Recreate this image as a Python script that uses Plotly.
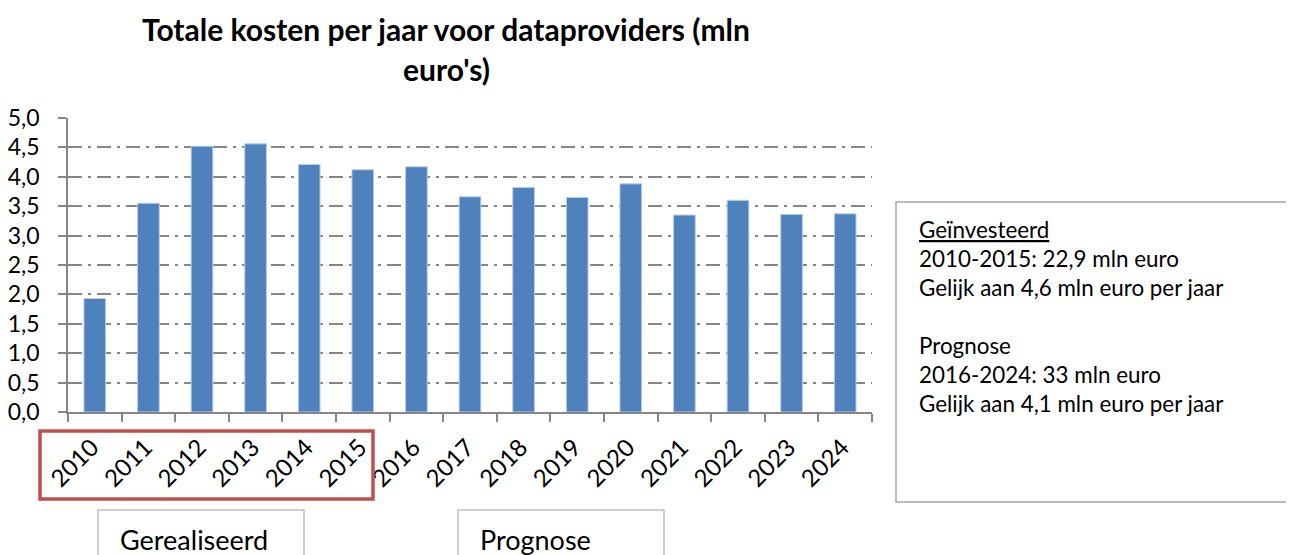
import plotly.graph_objects as go

years = ["2010", "2011", "2012", "2013", "2014", "2015", "2016", "2017",
         "2018", "2019", "2020", "2021", "2022", "2023", "2024"]
costs = [1.93, 3.55, 4.52, 4.56, 4.21, 4.12, 4.17, 3.66,
         3.82, 3.65, 3.88, 3.35, 3.60, 3.36, 3.37]

title_lines = ["Totale kosten per jaar voor dataproviders (mln", "euro's)"]
info_lines = ["<u>Geïnvesteerd</u>", "2010-2015: 22,9 mln euro",
              "Gelijk aan 4,6 mln euro per jaar", "",
              "Prognose", "2016-2024: 33 mln euro",
              "Gelijk aan 4,1 mln euro per jaar"]
group_labels = ["Gerealiseerd", "Prognose"]

# page (window) geometry; the html body adds an 8px margin
OFF = 8
PAGE_W, PAGE_H = 1294, 555
W, H = PAGE_W - OFF, PAGE_H - OFF
PL, PR, PT, PB = 68, 872, 118, 412          # plot area in page pixels
FONT = "Lato, 'Open Sans', sans-serif"


def xp(px):
    return (px - PL) / (PR - PL)


def yp(py):
    return (PB - py) / (PB - PT)


fig = go.Figure()
fig.add_trace(go.Bar(
    x=years, y=costs,
    marker=dict(color="#4F81BD", line=dict(color="#B9CDE5", width=1)),
    hoverinfo="x+y",
))

grid = "#868686"
fig.update_layout(
    template="none",
    width=W, height=H,
    margin=dict(l=PL - OFF, r=PAGE_W - PR, t=PT - OFF, b=PAGE_H - PB, pad=0),
    paper_bgcolor="white", plot_bgcolor="white",
    bargap=0.595,
    showlegend=False,
    font=dict(family=FONT, color="#000000"),
    separators=",.",
    xaxis=dict(
        type="category", automargin=False, showline=True, linecolor=grid,
        linewidth=1.5, ticks="outside", tickson="boundaries", ticklen=8,
        tickcolor=grid, tickwidth=1.5, tickangle=-45,
        tickfont=dict(size=24, family=FONT), showgrid=False,
        ticklabelstandoff=10, ticklabelshift=-3,
    ),
    yaxis=dict(
        range=[0, 5], dtick=0.5, tickformat=".1f", automargin=False,
        showline=True, linecolor=grid, linewidth=1.5, ticks="outside",
        ticklen=8, tickcolor=grid, tickwidth=1.5,
        tickfont=dict(size=23, family=FONT),
        showgrid=True, gridcolor=grid, gridwidth=1.5,
        griddash="14px,6px,3px,6px", zeroline=False, ticklabelstandoff=14,
    ),
)

# Title (two lines)
title_y = [29, 69]
for line, ty in zip(title_lines, title_y):
    fig.add_annotation(text="<b>" + line + "</b>", xref="paper", yref="paper",
                       x=xp(446), y=yp(ty), xanchor="center", yanchor="middle",
                       showarrow=False, font=dict(size=30, family=FONT))

# Red box around realised years
fig.add_shape(type="rect", xref="paper", yref="paper",
              x0=xp(40), x1=xp(373), y0=yp(499), y1=yp(431),
              line=dict(color="#C0504D", width=3.5), fillcolor="rgba(0,0,0,0)")

# Group label boxes
boxes = [(98, 304), (458, 664)]
for (bx0, bx1), lab in zip(boxes, group_labels):
    fig.add_shape(type="rect", xref="paper", yref="paper",
                  x0=xp(bx0), x1=xp(bx1), y0=yp(575), y1=yp(510),
                  line=dict(color="#BFBFBF", width=1.5))
    fig.add_annotation(text=lab, xref="paper", yref="paper",
                       x=xp(bx0 + 20), y=yp(539), xanchor="left",
                       yanchor="middle", showarrow=False,
                       font=dict(size=27, family=FONT))

# Info box on the right
fig.add_shape(type="rect", xref="paper", yref="paper",
              x0=xp(896), x1=xp(1320), y0=yp(502), y1=yp(202),
              line=dict(color="#A6A6A6", width=1.5))
line_y0, line_dy = 229, 29
for i, line in enumerate(info_lines):
    if not line:
        continue
    fig.add_annotation(text=line, xref="paper", yref="paper",
                       x=xp(917), y=yp(line_y0 + i * line_dy),
                       xanchor="left", yanchor="middle", showarrow=False,
                       font=dict(size=22.4, family=FONT))

fig.write_html("out.html")
